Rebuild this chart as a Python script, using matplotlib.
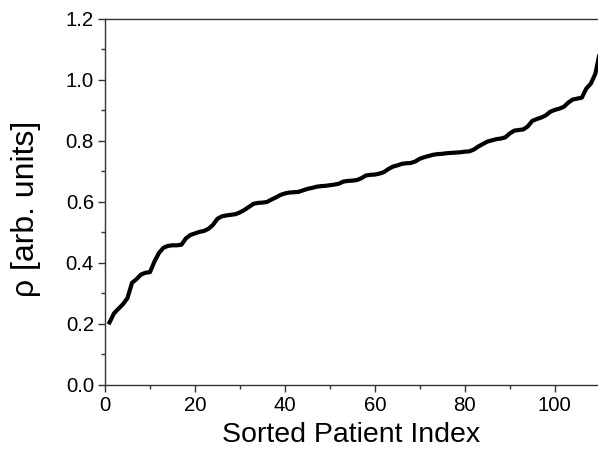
'''
Sorted per-patient rho values
'''
import matplotlib
matplotlib.use('Agg')
import matplotlib.pyplot as plt
from matplotlib.ticker import MultipleLocator

# sorted rho value for each patient (index 1..110)
patient_index = list(range(1, 111))
rho = [
    0.205, 0.235, 0.250, 0.265, 0.285, 0.335, 0.347, 0.362, 0.368, 0.370,
    0.405, 0.433, 0.450, 0.456, 0.458, 0.458, 0.460, 0.481, 0.492, 0.497,
    0.502, 0.505, 0.512, 0.525, 0.545, 0.553, 0.556, 0.558, 0.560, 0.566,
    0.574, 0.584, 0.594, 0.597, 0.598, 0.600, 0.608, 0.615, 0.623, 0.628,
    0.631, 0.632, 0.633, 0.638, 0.643, 0.646, 0.650, 0.652, 0.653, 0.655,
    0.657, 0.660, 0.667, 0.669, 0.670, 0.672, 0.678, 0.687, 0.689, 0.690,
    0.693, 0.698, 0.708, 0.716, 0.720, 0.725, 0.727, 0.728, 0.733, 0.742,
    0.747, 0.751, 0.755, 0.757, 0.758, 0.760, 0.761, 0.762, 0.763, 0.765,
    0.766, 0.772, 0.782, 0.790, 0.798, 0.802, 0.806, 0.808, 0.812, 0.825,
    0.834, 0.836, 0.838, 0.848, 0.866, 0.872, 0.877, 0.884, 0.896, 0.902,
    0.906, 0.912, 0.926, 0.936, 0.939, 0.942, 0.972, 0.988, 1.020, 1.090,
]

plt.rcParams['font.family'] = ['Liberation Sans', 'DejaVu Sans']

fig = plt.figure(figsize=(5.98, 4.61), dpi=100)
ax = fig.add_axes([0.1756, 0.1649, 0.8244, 0.7939])

ax.plot(patient_index, rho, color='black', lw=3.0, solid_joinstyle='round')

ax.set_xlim(0, 109.6)
ax.set_ylim(0, 1.2)
ax.xaxis.set_major_locator(MultipleLocator(20))
ax.xaxis.set_minor_locator(MultipleLocator(10))
ax.yaxis.set_major_locator(MultipleLocator(0.2))
ax.yaxis.set_minor_locator(MultipleLocator(0.1))
ax.yaxis.set_major_formatter(plt.FormatStrFormatter('%.1f'))

ax.tick_params(which='major', direction='out', length=5, width=1, labelsize=14.7, pad=3, color='#333333')
ax.tick_params(which='minor', direction='out', length=3, width=1, color='#333333')

for side in ['left', 'bottom', 'top']:
    ax.spines[side].set_color('#333333')
    ax.spines[side].set_linewidth(1)
ax.spines['right'].set_visible(False)

ax.set_xlabel('Sorted Patient Index', fontsize=20.5, labelpad=5)
ax.set_ylabel('ρ [arb. units]', fontsize=23)
ax.yaxis.set_label_coords(-0.13, 0.48)

fig.savefig('out.png', dpi=100)
